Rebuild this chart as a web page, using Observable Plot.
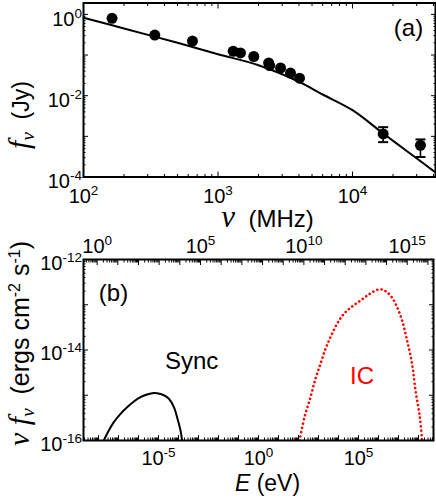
<!DOCTYPE html>
<html><head><meta charset="utf-8">
<script src="https://cdn.jsdelivr.net/npm/d3@7"></script>
<script src="https://cdn.jsdelivr.net/npm/@observablehq/plot@0.6"></script>
<style>
body{margin:0;background:#fff;}
#wrap{position:relative;width:436px;height:500px;overflow:hidden;}
#wrap svg{position:absolute;left:0;overflow:visible;}
</style></head><body><div id="wrap"></div>
<script>
// ---------- Panel (a): radio spectrum ----------
const obsFreqMHz = [163, 339, 646, 1297, 1469, 1845, 2380, 2420, 2918, 3459, 4036, 16900, 32000];
const obsFluxJy  = [0.80, 0.31, 0.22, 0.124, 0.113, 0.092, 0.064, 0.055, 0.048, 0.036, 0.027, 0.00115, 0.00060];
const errFreqMHz = [16900, 32000];
const errLowJy   = [0.00072, 0.00031];
const errHighJy  = [0.00168, 0.00084];
const fitFreqMHz = [100, 200, 500, 1000, 2000, 4000, 6000, 10000, 17000, 25000, 41400];
const fitFluxJy  = [0.83, 0.45, 0.20, 0.105, 0.056, 0.022, 0.0107, 0.0044, 0.00116, 0.00045, 0.00013];

// ---------- Panel (b): model SED ----------
const syncEnergyEV = [1.84e-8, 3.27e-8, 5.82e-8, 1.26e-7, 2.69e-7, 5.89e-7, 1.26e-6, 2.69e-6, 4.79e-6, 8.51e-6, 1.86e-5, 3.31e-5, 5.89e-5, 8.51e-5, 1.26e-4, 1.51e-4];
const syncFlux     = [1e-16, 1.66e-16, 2.54e-16, 3.89e-16, 5.44e-16, 7.28e-16, 9.06e-16, 1.04e-15, 1.11e-15, 1.11e-15, 1.0e-15, 8.36e-16, 5.44e-16, 3.27e-16, 1.66e-16, 1e-16];
const icEnergyEV = [112, 200, 398, 708, 1259, 2239, 3981, 8511, 18621, 47863, 125893, 331131, 851138, 1.51e6, 2.69e6, 4.79e6, 8.51e6, 1.51e7, 2.69e7, 4.79e7, 7.08e7, 1.17e8, 1.51e8];
const icFlux     = [1e-16, 3.27e-16, 9.06e-16, 2.31e-15, 4.95e-15, 1.06e-14, 1.92e-14, 3.79e-14, 6.31e-14, 9.14e-14, 1.24e-13, 1.69e-13, 2.14e-13, 2.17e-13, 1.89e-13, 1.43e-13, 8.83e-14, 4.49e-14, 1.62e-14, 4.95e-15, 1.27e-15, 3.27e-16, 1e-16];

// ---------- tick labels / annotations ----------
const aXTickLabels = [1e2, 1e3, 1e4];
const aYTickLabels = [1e-4, 1e-2, 1e0];
const bXTickLabels = [1e-5, 1e0, 1e5];
const bYTickLabels = [1e-16, 1e-14, 1e-12];
const bTopTickLabels = [1e0, 1e5, 1e10, 1e15];
const panelLabels = ["(a)", "(b)"];
const bNoteLabels = ["(b)", "Sync", "IC"];
const bNoteE      = [5.6e-8, 4.5e-4, 1.5e5];
const bNoteF      = [1.8e-13, 5.7e-15, 2.65e-15];
const bNoteColor  = ["black", "black", "red"];

const SANS = "'Liberation Sans', Arial, Helvetica, sans-serif";
const SERIF = "'Liberation Serif', 'Times New Roman', serif";

const RICH = {
  "ν (MHz)": [{t:"ν", f:SERIF, s:31, i:true}, {t:"  (MHz)", f:SANS, s:24}],
  "E (eV)": [{t:"E", f:SANS, s:23, i:true}, {t:" (eV)", f:SANS, s:23}],
  "fν (Jy)": [{t:"f", f:SERIF, s:30, i:true}, {t:"ν", f:SERIF, s:19, i:true, dy:5}, {t:"  (Jy)", f:SANS, s:23, dy:-5}],
  "νfν": [{t:"ν", f:SERIF, s:30, i:true}, {t:" f", f:SERIF, s:30, i:true}, {t:"ν", f:SERIF, s:19, i:true, dy:5},
          {t:"  (ergs cm", f:SANS, s:25, dy:-5}, {t:"-2", f:SANS, s:16, dy:-9}, {t:" s", f:SANS, s:25, dy:9},
          {t:"-1", f:SANS, s:16, dy:-9}, {t:")", f:SANS, s:25, dy:9}]
};

function applyRich(svg) {
  svg.querySelectorAll("text").forEach(t => {
    const s = t.textContent;
    let spec = null;
    const m = /^10\^(-?\d+)$/.exec(s);
    if (m) { spec = [{t:"10", f:SANS, s:20}, {t:m[1], f:SANS, s:13.5, dy:-8}]; }
    else if (RICH[s]) spec = RICH[s];
    if (!spec) return;
    t.textContent = "";
    t.style.whiteSpace = "pre";
    for (const p of spec) {
      const ts = document.createElementNS("http://www.w3.org/2000/svg", "tspan");
      ts.textContent = p.t;
      if (p.f) ts.setAttribute("font-family", p.f);
      if (p.s) { ts.setAttribute("font-size", p.s); ts.style.fontSize = p.s + "px"; }
      if (p.i) ts.setAttribute("font-style", "italic");
      if (p.dy) ts.setAttribute("dy", p.dy);
      t.appendChild(ts);
    }
  });
}

function decades(lo, hi) { const o = []; for (let e = lo; e <= hi; e++) o.push(+(`1e${e}`)); return o; }
function minors(lo, hi, dmin, dmax) {
  const o = [];
  for (let e = lo; e <= hi; e++) for (let m = 2; m <= 9; m++) { const v = +(`${m}e${e}`); if (v > dmin && v < dmax) o.push(v); }
  return o;
}
const sup = d => `10^${Math.round(Math.log10(d))}`;
const none = () => "";
const capSymbol = {draw(ctx, size) { const w = Math.sqrt(size / Math.PI); ctx.moveTo(-w, 0); ctx.lineTo(w, 0); }};

function ticks(axis, anchor, values, size) {
  return axis(values, {anchor, tickSize: -size, tickFormat: none, label: null, strokeWidth: 1});
}
const lbl = {textAnchor: "middle", lineAnchor: "middle"};

const wrap = document.getElementById("wrap");
const baseStyle = {fontFamily: SANS, fontSize: "20px", color: "black", background: "transparent", overflow: "visible"};

// ---------- Panel (a) ----------
const aX = [100, 10 ** 4.617], aY = [1e-4, 10 ** 0.28];
const obs = obsFreqMHz.map((f, i) => ({f, v: obsFluxJy[i]}));
const err = errFreqMHz.map((f, i) => ({f, lo: errLowJy[i], hi: errHighJy[i]}));
const fit = fitFreqMHz.map((f, i) => ({f, v: fitFluxJy[i]}));
const A = Plot.plot({
  width: 436, height: 230, marginLeft: 83, marginRight: 1, marginTop: 2.5, marginBottom: 53.5,
  style: baseStyle,
  x: {type: "log", domain: aX},
  y: {type: "log", domain: aY},
  marks: [
    ticks(Plot.axisX, "bottom", decades(2, 4), 5),
    ticks(Plot.axisX, "bottom", minors(2, 4, aX[0], aX[1]), 2.5),
    ticks(Plot.axisX, "top", decades(2, 4), 5),
    ticks(Plot.axisX, "top", minors(2, 4, aX[0], aX[1]), 2.5),
    ticks(Plot.axisY, "left", decades(-4, 0), 5),
    ticks(Plot.axisY, "left", minors(-4, 0, aY[0], aY[1]), 2.5),
    ticks(Plot.axisY, "right", decades(-4, 0), 5),
    ticks(Plot.axisY, "right", minors(-4, 0, aY[0], aY[1]), 2.5),
    Plot.axisX(aXTickLabels, {anchor: "bottom", tickSize: 0, tickPadding: 12, tickFormat: sup, label: null, fontSize: 20}),
    Plot.axisY(aYTickLabels, {anchor: "left", tickSize: 0, tickPadding: 1.5, dy: 5, tickFormat: sup, label: null, fontSize: 20}),
    Plot.line(fit, {x: "f", y: "v", stroke: "black", strokeWidth: 2, curve: "catmull-rom"}),
    Plot.ruleX(err, {x: "f", y1: "lo", y2: "hi", stroke: "black", strokeWidth: 1.6}),
    Plot.dot(err, {x: "f", y: "lo", symbol: capSymbol, r: 5, stroke: "black", strokeWidth: 2}),
    Plot.dot(err, {x: "f", y: "hi", symbol: capSymbol, r: 5, stroke: "black", strokeWidth: 2}),
    Plot.dot(obs, {x: "f", y: "v", r: 5.5, fill: "black"}),
    Plot.text([panelLabels[0]], {...lbl, text: d => d, frameAnchor: "top-right", dx: -27, dy: 25.8, fontSize: 24}),
    Plot.text(["ν (MHz)"], {...lbl, text: d => d, frameAnchor: "bottom", dx: 8, dy: 42.8, fontSize: 24}),
    Plot.text(["fν (Jy)"], {...lbl, text: d => d, frameAnchor: "left", rotate: -90, dx: -62, dy: 25, fontSize: 23}),
    Plot.frame({stroke: "black", strokeWidth: 2})
  ]
});
A.style.top = "0px";
applyRich(A);
wrap.appendChild(A);

// ---------- Panel (b) ----------
const bX = [10 ** -8.75, 10 ** 8.75], bY = [1e-16, 1e-12];
const sync = syncEnergyEV.map((e, i) => ({e, v: syncFlux[i]}));
const ic = icEnergyEV.map((e, i) => ({e, v: icFlux[i]}));
const notes = bNoteLabels.map((t, i) => ({t, e: bNoteE[i], v: bNoteF[i], c: bNoteColor[i]}));
const B = Plot.plot({
  width: 436, height: 270, marginLeft: 83, marginRight: 3, marginTop: 29, marginBottom: 60,
  style: baseStyle,
  x: {type: "log", domain: bX},
  y: {type: "log", domain: bY},
  color: {type: "identity"},
  marks: [
    ticks(Plot.axisX, "bottom", decades(-8, 8), 5),
    ticks(Plot.axisX, "bottom", minors(-9, 8, bX[0], bX[1]), 2.5),
    ticks(Plot.axisY, "left", decades(-16, -12), 5),
    ticks(Plot.axisY, "left", minors(-16, -13, bY[0], bY[1]), 2.5),
    ticks(Plot.axisY, "right", decades(-16, -12), 5),
    ticks(Plot.axisY, "right", minors(-16, -13, bY[0], bY[1]), 2.5),
    Plot.axisX(bXTickLabels, {anchor: "bottom", tickSize: 0, tickPadding: 10, tickFormat: sup, label: null, fontSize: 20}),
    Plot.axisY(bYTickLabels, {anchor: "left", tickSize: 0, tickPadding: 1.5, dy: 4, tickFormat: sup, label: null, fontSize: 20}),
    Plot.line(sync, {x: "e", y: "v", stroke: "black", strokeWidth: 2, curve: "catmull-rom", clip: true}),
    Plot.line(ic, {x: "e", y: "v", stroke: "#ff0000", strokeWidth: 2.6, strokeDasharray: "0.1 4.2", strokeLinecap: "round", curve: "catmull-rom", clip: true}),
    Plot.text(notes, {...lbl, x: "e", y: "v", text: "t", fontSize: 24, fill: "c"}),
    Plot.text(["E (eV)"], {...lbl, text: d => d, frameAnchor: "bottom", dx: 9, dy: 43, fontSize: 23}),
    Plot.text(["νfν"], {...lbl, text: d => d, frameAnchor: "left", rotate: -90, dx: -62, dy: -6.5, fontSize: 24}),
    Plot.frame({stroke: "black", strokeWidth: 2})
  ]
});
B.style.top = "230px";
applyRich(B);
wrap.appendChild(B);

// ---------- Panel (b) top axis ----------
const tX = [10 ** -0.66, 10 ** 16.27];
const T = Plot.plot({
  width: 436, height: 270, marginLeft: 83, marginRight: 3, marginTop: 29, marginBottom: 60,
  style: baseStyle,
  x: {type: "log", domain: tX},
  marks: [
    ticks(Plot.axisX, "top", decades(0, 16), 5),
    ticks(Plot.axisX, "top", minors(-1, 16, tX[0], tX[1]), 2.5),
    Plot.axisX(bTopTickLabels, {anchor: "top", tickSize: 0, tickPadding: 7, tickFormat: sup, label: null, fontSize: 20})
  ]
});
T.style.top = "230px";
applyRich(T);
wrap.appendChild(T);
</script></body></html>
